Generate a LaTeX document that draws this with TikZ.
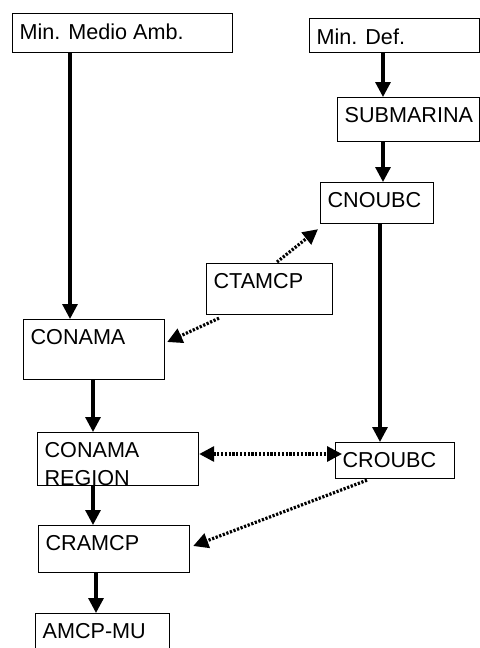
\documentclass[tikz,border=0pt]{standalone}
\usepackage{fontspec}
\setmainfont{Liberation Sans}
\usepackage{tikz}
\usetikzlibrary{calc,arrows.meta}
\tikzset{
  orgbox/.style={draw, line width=0.6pt, anchor=north west, inner xsep=3.5pt, inner ysep=5pt, font=\fontsize{10.8}{14}\selectfont},
  mainarrow/.style={line width=1.6pt, -{Triangle[length=7.5pt,width=7.5pt]}},
  linkarrow/.style={line width=1.6pt, dash pattern=on 1.1pt off 0.8pt, -{Triangle[length=7.5pt,width=7.5pt]}},
  linkboth/.style={linkarrow, {Triangle[length=7.5pt,width=7.5pt]}-{Triangle[length=7.5pt,width=7.5pt]}},
}
\newcommand{\orgtext}[3]{\parbox[c][#2][t]{#1}{\raggedright #3}}

\begin{document}
\begin{tikzpicture}[x=0.5pt,y=-0.5pt]
    \useasboundingbox (0,0) rectangle (480,648);

    % left column
    \node[orgbox] (minmedio) at (12,13) {\orgtext{103pt}{9.5pt}{Min. Medio Amb.}};
    \node[orgbox] (conama) at (23,319) {\orgtext{63.5pt}{20pt}{CONAMA}};
    \node[orgbox] (region) at (37,432) {\orgtext{73.5pt}{16.5pt}{CONAMA\\REGION}};
    \node[orgbox] (cramcp) at (38,525) {\orgtext{68.5pt}{13.5pt}{CRAMCP}};
    \node[orgbox] (amcpmu) at (35,613) {\orgtext{60pt}{12.5pt}{AMCP-MU}};

    % right column
    \node[orgbox] (mindef) at (309,18) {\orgtext{78pt}{7pt}{Min. Def.}};
    \node[orgbox] (submarina) at (337,97) {\orgtext{64pt}{12pt}{SUBMARINA}};
    \node[orgbox] (cnoubc) at (320,182) {\orgtext{49.5pt}{10.5pt}{CNOUBC}};
    \node[orgbox] (croubc) at (335,442) {\orgtext{52.5pt}{8pt}{CROUBC}};

    \node[orgbox] (ctamcp) at (206,263) {\orgtext{56pt}{15.5pt}{CTAMCP}};

    % dependencies
    \draw[mainarrow] ($(minmedio.south west)+(58,0)$) -- ($(conama.north west)+(47,0)$);
    \draw[mainarrow] ($(conama.south west)+(70,0)$) -- ($(region.north west)+(56,0)$);
    \draw[mainarrow] ($(region.south west)+(56,0)$) -- ($(cramcp.north west)+(55,0)$);
    \draw[mainarrow] ($(cramcp.south west)+(58,0)$) -- ($(amcpmu.north west)+(61,0)$);
    \draw[mainarrow] ($(mindef.south west)+(74,0)$) -- ($(submarina.north west)+(46,0)$);
    \draw[mainarrow] ($(submarina.south west)+(46,0)$) -- ($(cnoubc.north west)+(63,0)$);
    \draw[mainarrow] ($(cnoubc.south west)+(60,0)$) -- ($(croubc.north west)+(45,0)$);

    % coordination
    \draw[linkarrow] ($(ctamcp.north west)+(71,-1)$) -- ($(cnoubc.south west)+(-2,5)$);
    \draw[linkarrow] ($(ctamcp.south west)+(13,3)$) -- ($(conama.north east)+(2,23)$);
    \draw[linkboth] ($(region.north east)+(0,22)$) -- ($(croubc.north west)+(7,12)$);
    \draw[linkarrow] ($(croubc.south west)+(32,1)$) -- ($(cramcp.north east)+(3,21)$);
\end{tikzpicture}
\end{document}
